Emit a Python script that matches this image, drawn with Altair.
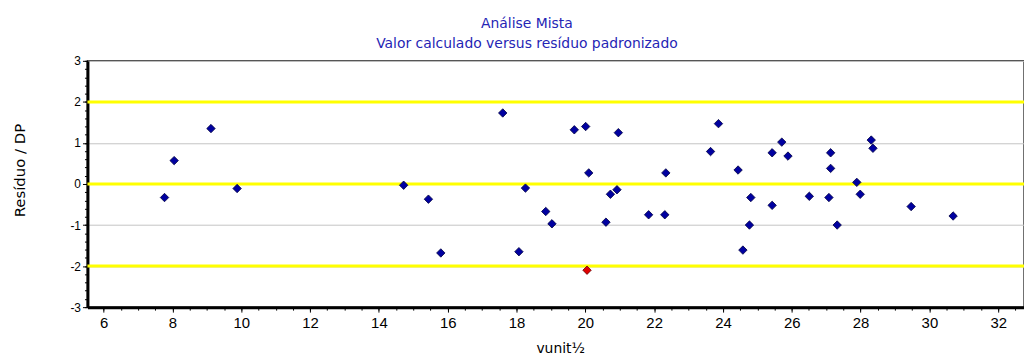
import altair as alt
import pandas as pd

# valor calculado (vunit½)
xs = [7.77, 8.05, 9.12, 9.88, 17.60, 19.68, 20.01, 20.96, 20.10, 22.34,
      14.72, 18.26, 15.44, 20.73, 20.92, 18.85, 19.03, 20.60, 21.84, 22.31,
      15.80, 18.07, 20.05, 23.87, 23.64, 25.71, 25.43, 25.89, 27.13, 27.13,
      28.31, 28.36, 24.44, 27.89, 24.81, 25.43, 26.51, 27.08, 27.99, 29.47,
      30.69, 24.77, 27.32, 24.58]
# resíduo padronizado
ys = [-0.33, 0.57, 1.35, -0.11, 1.73, 1.32, 1.40, 1.25, 0.27, 0.27,
      -0.03, -0.10, -0.37, -0.25, -0.14, -0.67, -0.97, -0.93, -0.75, -0.75,
      -1.68, -1.65, -2.10, 1.47, 0.79, 1.02, 0.76, 0.68, 0.76, 0.38,
      1.07, 0.87, 0.34, 0.04, -0.33, -0.52, -0.30, -0.33, -0.25, -0.55,
      -0.78, -1.00, -1.00, -1.61]
# ponto fora dos limites
outlier = [False] * 22 + [True] + [False] * 21

limits = [2, 0, -2]
x_major = [6, 8, 10, 12, 14, 16, 18, 20, 22, 24, 26, 28, 30, 32]
y_major = [-3, -2, -1, 0, 1, 2, 3]
x_minor = [v / 2 for v in range(12, 66)]
y_minor = [v / 5 for v in range(-15, 16)]
x_domain = [5.53, 32.75]
y_domain = [-3, 3]

df = pd.DataFrame({"x": xs, "y": ys, "out": outlier})
df_lim = pd.DataFrame({"lim": limits})

xscale = alt.Scale(domain=x_domain, nice=False, zero=False)
yscale = alt.Scale(domain=y_domain, nice=False, zero=False)

points = alt.Chart(df).mark_point(
    shape="diamond", filled=True, size=72, strokeWidth=0.8, opacity=1
).encode(
    x=alt.X("x:Q", scale=xscale, axis=alt.Axis(
        orient="bottom",
        values=x_major, title="vunit½", grid=False, domainColor="#000",
        domainWidth=3, tickColor="#000", tickSize=5, tickWidth=1,
        labelFont="Liberation Sans", labelFontSize=15, labelColor="#000",
        labelPadding=4, titleFont="DejaVu Sans", titleFontSize=14,
        titleFontWeight="normal", titleColor="#000", titleX=476, titleY=42,
        titleBaseline="middle", titleAnchor="start", titleAlign="center")),
    y=alt.Y("y:Q", scale=yscale, axis=alt.Axis(
        orient="left",
        values=y_major, title="Resíduo / DP", grid=True, gridColor="#c4c4c4",
        gridWidth=1, domainColor="#000", domainWidth=3, tickColor="#000",
        tickSize=5, labelFont="Liberation Sans", labelFontSize=12,
        labelColor="#000", labelPadding=2,
        labelExpr="'' + datum.value",
        titleFont="DejaVu Sans",
        titleFontSize=15, titleFontWeight="normal", titleColor="#000",
        titleX=-68, titleY=110, titleBaseline="middle", titleAngle=270,
        titleAlign="center", titleAnchor="start")),
    color=alt.Color("out:N", scale=alt.Scale(domain=[False, True],
                    range=["#0000a0", "#e00000"]), legend=None),
    stroke=alt.Stroke("out:N", scale=alt.Scale(domain=[False, True],
                      range=["#000040", "#600000"]), legend=None),
)

minor = alt.Chart(df).mark_point(opacity=0).encode(
    x=alt.X("x:Q", scale=xscale, axis=alt.Axis(
        values=x_minor, orient="bottom", labels=False, title=None, grid=False,
        domain=False, tickColor="#000", tickSize=3)),
    y=alt.Y("y:Q", scale=yscale, axis=alt.Axis(
        values=y_minor, orient="left", labels=False, title=None, grid=False,
        domain=False, tickColor="#000", tickSize=3)),
)

rules = alt.Chart(df_lim).mark_rule(color="#ffff00", strokeWidth=3).encode(
    y=alt.Y("lim:Q", scale=yscale, axis=None)
)

chart = alt.layer(minor, rules, points).resolve_axis(
    x="independent", y="independent"
).properties(
    width=943,
    height=248,
    autosize=alt.AutoSizeParams(type="none"),
    padding={"left": 80, "top": 52, "right": 0, "bottom": 50},
    title=alt.TitleParams(
        text=["Análise Mista", "Valor calculado versus resíduo padronizado"],
        font="DejaVu Sans", fontSize=14, fontWeight="normal",
        color="#2525b5", lineHeight=20, anchor="middle", dx=-29, offset=4),
).configure_view(stroke="#404040", strokeWidth=1.5)

chart.save("out.html", embed_options={"renderer": "svg", "actions": False})
